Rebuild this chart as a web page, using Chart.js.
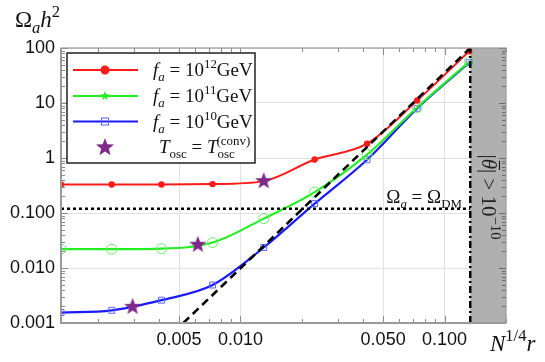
<!DOCTYPE html>
<html>
<head>
<meta charset="utf-8">
<script src="https://cdn.jsdelivr.net/npm/chart.js@4/dist/chart.umd.min.js"></script>
<style>
  html, body { margin: 0; padding: 0; background: #fff; }
  canvas { display: block; }
</style>
</head>
<body>
<canvas id="graf" width="545" height="362"></canvas>
<script>
/* Valores (eixos log-log) */
const X_PONTOS = [0.00132, 0.00234, 0.0041, 0.0073, 0.013, 0.0231, 0.0417, 0.0734, 0.132];
const Y_FA12 = [0.33, 0.33, 0.33, 0.335, 0.38, 0.94, 1.82, 11.1, 87];
const Y_FA11 = [0.022, 0.022, 0.0225, 0.029, 0.079, 0.24, 1.15, 8.3, 56];
const Y_FA10 = [0.00155, 0.0017, 0.0026, 0.0049, 0.0236, 0.148, 0.93, 8.0, 54];

const X_ESTRELAS = [0.00296, 0.00618, 0.013];
const Y_ESTRELAS = [0.00197, 0.0265, 0.38];

const X_TRACEJADA = [0.00525, 0.1336];
const Y_TRACEJADA = [0.001, 100];

const OMEGA_DM = 0.12;
const LIMITE_THETA = 0.1336;

const TICKS_X = [0.005, 0.01, 0.05, 0.1];
const ROTULOS_X = ['0.005', '0.010', '0.050', '0.100'];
const TICKS_Y = [0.001, 0.01, 0.1, 1, 10, 100];
const ROTULOS_Y = ['0.001', '0.010', '0.100', '1', '10', '100'];

const CORES = {
  vermelho: '#ff1a1a',
  verde: '#22ee22',
  verdeClaro: '#66ee66',
  azul: '#1a1aff',
  azulClaro: '#5566ff',
  roxo: '#7f2a8a',
  grade: '#e2e2e2',
  moldura: '#9a9a9a',
  faixa: '#b0b0b0'
};

const SERIF = "'Liberation Serif', 'DejaVu Serif', serif";
const SANS = "'Liberation Sans', Arial, sans-serif";

const pares = (xs, ys) => xs.map((x, i) => ({ x, y: ys[i] }));

/* Estrela cheia usada como pointStyle */
function desenharEstrela(ctx, cx, cy, rExt, rInt, cor) {
  ctx.beginPath();
  for (let i = 0; i < 10; i++) {
    const r = i % 2 === 0 ? rExt : rInt;
    const a = -Math.PI / 2 + i * Math.PI / 5;
    const px = cx + r * Math.cos(a), py = cy + r * Math.sin(a);
    i === 0 ? ctx.moveTo(px, py) : ctx.lineTo(px, py);
  }
  ctx.closePath();
  ctx.fillStyle = cor;
  ctx.fill();
}
function imagemEstrela(raio, cor) {
  const c = document.createElement('canvas');
  c.width = c.height = raio * 2 + 2;
  desenharEstrela(c.getContext('2d'), raio + 1, raio + 1, raio, raio * 0.42, cor);
  return c;
}

/* Texto com itálico, subscrito e sobrescrito: partes = [[texto, 'i'|'b'|'p'|...], ...] */
function fontePara(estilo, tam, fonte, razao) {
  const t = (estilo.includes('b') || estilo.includes('p')) ? tam * razao : tam;
  return `${estilo.includes('i') ? 'italic ' : ''}${t}px ${fonte}`;
}
function medirRico(ctx, partes, tam, fonte = SERIF, razao = 0.7) {
  return partes.map(([txt, est = '']) => {
    ctx.font = fontePara(est, tam, fonte, razao);
    return ctx.measureText(txt).width;
  });
}
function textoRico(ctx, x, y, partes, tam, alinhar = 'left', fonte = SERIF, razao = 0.7) {
  const larguras = medirRico(ctx, partes, tam, fonte, razao);
  const total = larguras.reduce((s, w) => s + w, 0);
  let cx = alinhar === 'center' ? x - total / 2 : alinhar === 'right' ? x - total : x;
  ctx.textAlign = 'left';
  ctx.textBaseline = 'alphabetic';
  partes.forEach(([txt, est = ''], i) => {
    ctx.font = fontePara(est, tam, fonte, razao);
    const dy = est.includes('b') ? tam * 0.28 : est.includes('p') ? -tam * 0.42 : 0;
    ctx.fillText(txt, cx, y + dy);
    cx += larguras[i];
  });
  return total;
}

/* Molduras, ticks internos, faixa cinza, legenda e textos */
const decoracao = {
  id: 'decoracao',
  beforeDatasetsDraw(chart) {
    const { ctx, chartArea: a, scales: { x } } = chart;
    const xl = x.getPixelForValue(LIMITE_THETA);
    ctx.save();
    ctx.fillStyle = CORES.faixa;
    ctx.fillRect(xl, a.top, a.right - xl, a.bottom - a.top);
    ctx.restore();
  },
  afterDatasetsDraw(chart) {
    const { ctx, chartArea: a, scales: { x, y } } = chart;
    ctx.save();

    // ticks menores e maiores (apontando para dentro)
    ctx.lineWidth = 1;
    [-3, -2, -1].forEach(d => {
      for (let m = 1; m <= 9; m++) {
        const v = m * Math.pow(10, d);
        if (v < x.min || v > x.max) continue;
        const px = Math.round(x.getPixelForValue(v)) + 0.5;
        const len = (m === 1 || m === 5) ? 7 : 4;
        ctx.strokeStyle = '#8a8a8a';
        ctx.beginPath();
        ctx.moveTo(px, a.bottom); ctx.lineTo(px, a.bottom - len);
        ctx.moveTo(px, a.top); ctx.lineTo(px, a.top + len);
        ctx.stroke();
      }
    });
    [-3, -2, -1, 0, 1].forEach(d => {
      for (let m = 1; m <= 10; m++) {
        const v = m * Math.pow(10, d);
        if (v < y.min || v > y.max * 1.0001) continue;
        const py = Math.round(y.getPixelForValue(v)) + 0.5;
        const len = (m === 1 || m === 10) ? 7 : 4;
        ctx.strokeStyle = '#8a8a8a';
        ctx.beginPath();
        ctx.moveTo(a.left, py); ctx.lineTo(a.left + len, py);
        ctx.stroke();
        ctx.strokeStyle = '#6a6a6a';
        ctx.beginPath();
        ctx.moveTo(a.right, py); ctx.lineTo(a.right - len, py);
        ctx.stroke();
      }
    });

    // moldura
    ctx.strokeStyle = CORES.moldura;
    ctx.lineWidth = 1.2;
    ctx.strokeRect(a.left, a.top, a.right - a.left, a.bottom - a.top);
    ctx.lineWidth = 2;
    ctx.beginPath();
    ctx.moveTo(a.left, a.top); ctx.lineTo(a.left, a.bottom); ctx.lineTo(a.right, a.bottom);
    ctx.stroke();

    // legenda
    const lx = 67, ly = 53, lw = 188, lh = 110;
    ctx.fillStyle = '#fff';
    ctx.fillRect(lx, ly, lw, lh);
    ctx.strokeStyle = '#222';
    ctx.lineWidth = 1.5;
    ctx.strokeRect(lx, ly, lw, lh);
    const cores = [CORES.vermelho, CORES.verde, CORES.azul];
    [70, 96, 121.5].forEach((yy, i) => {
      ctx.strokeStyle = cores[i];
      ctx.lineWidth = 2;
      ctx.beginPath(); ctx.moveTo(73, yy); ctx.lineTo(138, yy); ctx.stroke();
    });
    ctx.fillStyle = CORES.vermelho;
    ctx.beginPath(); ctx.arc(105, 70, 4.5, 0, Math.PI * 2); ctx.fill();
    desenharEstrela(ctx, 105, 96, 5, 2.1, CORES.verde);
    ctx.strokeStyle = CORES.azulClaro; ctx.lineWidth = 1;
    ctx.strokeRect(101.5, 118, 7, 7);
    desenharEstrela(ctx, 105, 147.5, 9.5, 4, CORES.roxo);

    ctx.fillStyle = '#111';
    [['12', 76], ['11', 102], ['10', 127.5]].forEach(([e, yy]) => {
      textoRico(ctx, 153, yy, [['f', 'i'], ['a', 'ib'], [' = 10'], [e, 'p'], ['GeV']], 19, 'left', SERIF, 0.68);
    });
    const wT = textoRico(ctx, 159, 153, [['T', 'i'], ['osc', 'b'], [' = '], ['T', 'i']], 19, 'left', SERIF, 0.68);
    ctx.font = `${19 * 0.68}px ${SERIF}`;
    ctx.fillText('osc', 159 + wT, 153 + 19 * 0.28);
    ctx.fillText('(conv)', 159 + wT - 1, 153 - 19 * 0.42);

    // títulos dos eixos
    textoRico(ctx, 15, 27, [['\u03A9'], ['a', 'ib'], ['h', 'i'], ['2', 'p']], 23, 'left', SERIF, 0.72);
    textoRico(ctx, 490, 351, [['N', 'i'], ['1/4', 'p'], ['r', 'i']], 23, 'left', SERIF, 0.72);

    // rótulo da linha de matéria escura
    textoRico(ctx, 462, 203, [['\u03A9'], ['a', 'ib'], [' = \u03A9'], ['DM', 'b']], 19, 'right', SERIF, 0.68);

    // texto girado na faixa cinza
    const partes = [['|'], ['\u03B8', 'i'], ['| > 10'], ['\u221210', 'p']];
    const tam = 21;
    ctx.translate(489, 197);
    ctx.rotate(Math.PI / 2);
    ctx.fillStyle = '#222';
    const larg = medirRico(ctx, partes, tam, SERIF, 0.7);
    const total = textoRico(ctx, 0, 7, partes, tam, 'center', SERIF, 0.7);
    const x0 = -total / 2 + larg[0];
    ctx.strokeStyle = '#222'; ctx.lineWidth = 1.2;
    ctx.beginPath();
    ctx.moveTo(x0 + 2, -10.5); ctx.lineTo(x0 + larg[1] + 1, -10.5);
    ctx.stroke();
    ctx.restore();
  }
};

const estrela = imagemEstrela(9, CORES.roxo);

new Chart(document.getElementById('graf'), {
  type: 'line',
  data: {
    datasets: [
      { data: pares(X_ESTRELAS, Y_ESTRELAS), showLine: false, pointStyle: estrela, order: 0 },
      {
        data: pares(X_TRACEJADA, Y_TRACEJADA), borderColor: '#000', borderWidth: 2.5,
        borderDash: [8, 5], pointRadius: 0, order: 1
      },
      {
        data: pares([X_PONTOS[0], LIMITE_THETA], [OMEGA_DM, OMEGA_DM]), borderColor: '#000',
        borderWidth: 2.5, borderDash: [3, 3], pointRadius: 0, order: 2
      },
      {
        data: pares([LIMITE_THETA, LIMITE_THETA], [0.001, 100]), borderColor: '#000',
        borderWidth: 2.5, borderDash: [7, 3, 2, 3], pointRadius: 0, order: 2
      },
      {
        data: pares(X_PONTOS, Y_FA12), borderColor: CORES.vermelho, borderWidth: 2,
        pointRadius: 3.2, pointBackgroundColor: CORES.vermelho, pointBorderWidth: 0,
        cubicInterpolationMode: 'monotone', order: 3
      },
      {
        data: pares(X_PONTOS, Y_FA11), borderColor: CORES.verde, borderWidth: 2.2,
        pointRadius: 5, pointBackgroundColor: 'rgba(0,0,0,0)', pointBorderColor: CORES.verdeClaro,
        pointBorderWidth: 1, cubicInterpolationMode: 'monotone', order: 4
      },
      {
        data: pares(X_PONTOS, Y_FA10), borderColor: CORES.azul, borderWidth: 2.2,
        pointStyle: 'rect', pointRadius: 4.2, pointBackgroundColor: 'rgba(0,0,0,0)',
        pointBorderColor: CORES.azulClaro, pointBorderWidth: 1,
        cubicInterpolationMode: 'monotone', order: 5
      }
    ]
  },
  options: {
    responsive: false,
    animation: false,
    layout: { padding: { top: 48, right: 39, left: 0, bottom: 0 } },
    plugins: { legend: { display: false }, tooltip: { enabled: false } },
    scales: {
      x: {
        type: 'logarithmic', min: 0.00132, max: 0.2, bounds: 'data',
        afterBuildTicks: s => { s.ticks = TICKS_X.map(v => ({ value: v })); },
        afterFit: s => { s.height = 39; },
        grid: { color: CORES.grade, drawTicks: false },
        border: { display: false },
        ticks: {
          padding: 6, color: '#111', font: { family: SANS, size: 18 },
          maxRotation: 0, autoSkip: false,
          callback: v => ROTULOS_X[TICKS_X.indexOf(v)] ?? ''
        }
      },
      y: {
        type: 'logarithmic', min: 0.001, max: 100, bounds: 'data',
        afterBuildTicks: s => { s.ticks = TICKS_Y.map(v => ({ value: v })); },
        afterFit: s => { s.width = 61; },
        grid: { color: CORES.grade, drawTicks: false },
        border: { display: false },
        ticks: {
          padding: 6, color: '#111', font: { family: SANS, size: 18 },
          autoSkip: false,
          callback: v => ROTULOS_Y[TICKS_Y.indexOf(v)] ?? ''
        }
      }
    }
  },
  plugins: [decoracao]
});
</script>
</body>
</html>
